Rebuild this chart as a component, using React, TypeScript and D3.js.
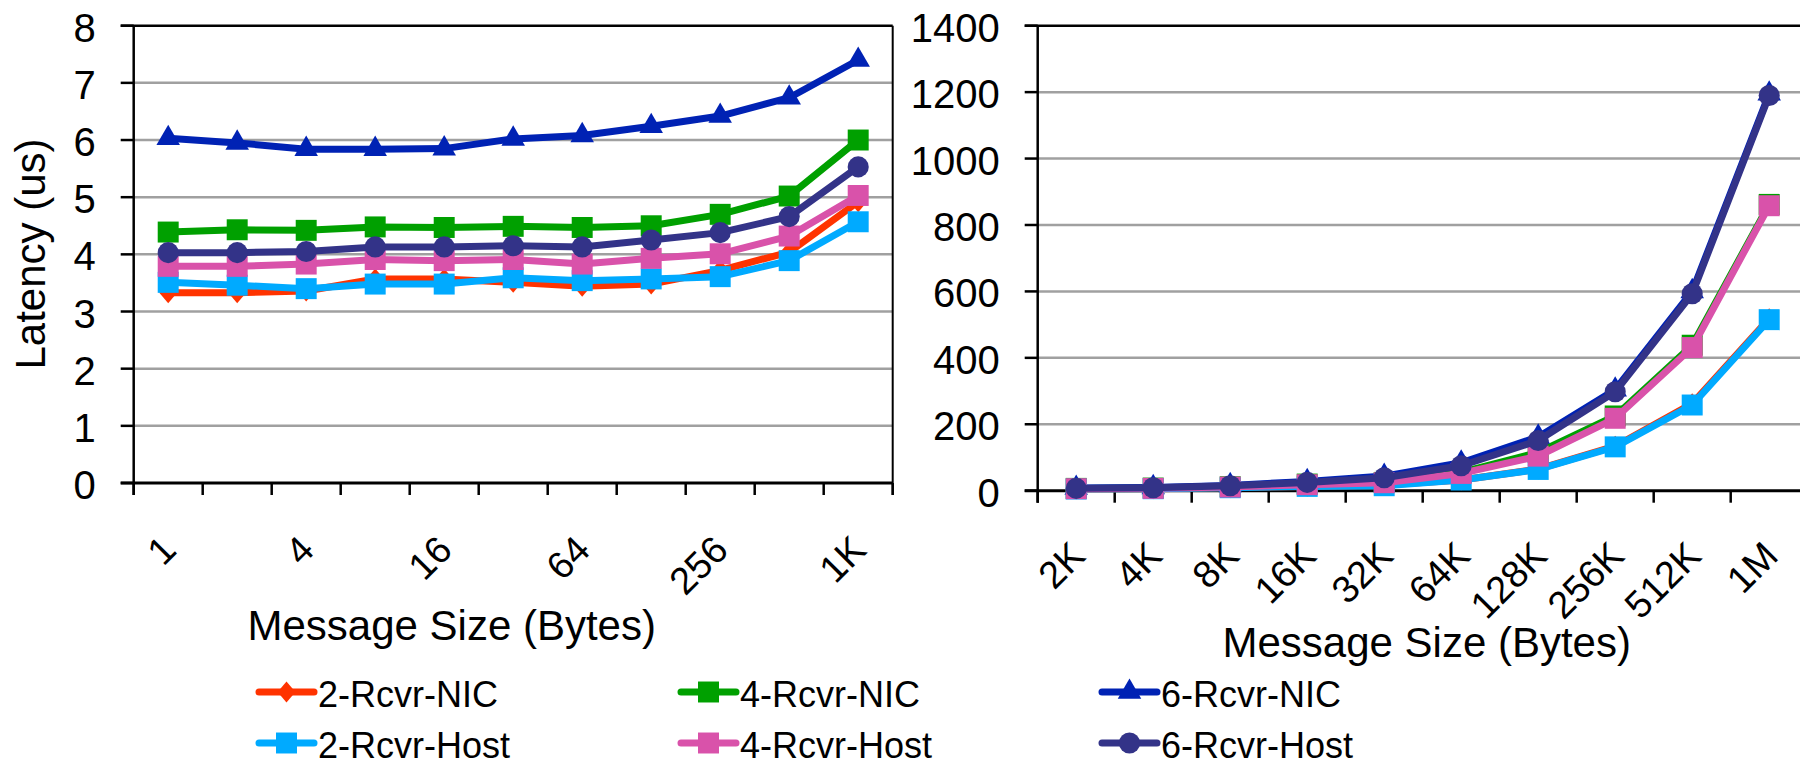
import React from "react";
import * as d3 from "d3";

// small messages (left panel)
const smallSizes = ["1", "2", "4", "8", "16", "32", "64", "128", "256", "512", "1K"];
const smallShown = ["1", "4", "16", "64", "256", "1K"];
const smallTicks = [0, 1, 2, 3, 4, 5, 6, 7, 8];

const nic2Small = [3.33, 3.33, 3.36, 3.57, 3.57, 3.51, 3.44, 3.48, 3.72, 4.04, 4.92];
const nic4Small = [4.39, 4.43, 4.42, 4.48, 4.47, 4.49, 4.47, 4.5, 4.7, 5.02, 6.0];
const nic6Small = [6.03, 5.95, 5.84, 5.84, 5.85, 6.02, 6.08, 6.24, 6.42, 6.74, 7.4];
const host2Small = [3.51, 3.46, 3.4, 3.48, 3.48, 3.59, 3.54, 3.57, 3.61, 3.89, 4.57];
const host4Small = [3.79, 3.79, 3.83, 3.91, 3.89, 3.91, 3.83, 3.93, 4.01, 4.32, 5.03];
const host6Small = [4.03, 4.03, 4.05, 4.13, 4.13, 4.15, 4.13, 4.25, 4.38, 4.66, 5.53];

// large messages (right panel)
const largeSizes = ["2K", "4K", "8K", "16K", "32K", "64K", "128K", "256K", "512K", "1M"];
const largeTicks = [0, 200, 400, 600, 800, 1000, 1200, 1400];

const nic2Large = [5, 6, 9, 13, 17, 32, 65, 134, 262, 518];
const nic4Large = [7, 8, 12, 20, 25, 55, 115, 225, 438, 862];
const nic6Large = [8, 10, 16, 28, 44, 84, 162, 304, 600, 1195];
const host2Large = [5, 6, 9, 13, 15, 32, 64, 132, 258, 515];
const host4Large = [6, 7, 11, 18, 24, 52, 104, 218, 431, 858];
const host6Large = [7, 9, 15, 25, 39, 75, 151, 298, 593, 1190];

const names = ["2-Rcvr-NIC", "4-Rcvr-NIC", "6-Rcvr-NIC", "2-Rcvr-Host", "4-Rcvr-Host", "6-Rcvr-Host"];
const colors = ["#ff3300", "#00a000", "#0022b4", "#00aaff", "#d952aa", "#333388"];

// diamond a bit wider than d3's own
const wideDiamond = {
  draw(ctx: any, size: number) {
    const h = Math.sqrt(size) * 0.5;
    const w = h * 0.85;
    ctx.moveTo(0, -h);
    ctx.lineTo(w, 0);
    ctx.lineTo(0, h);
    ctx.lineTo(-w, 0);
    ctx.closePath();
  },
};
const shapes: any[] = [wideDiamond, d3.symbolSquare, d3.symbolTriangle, d3.symbolSquare, d3.symbolSquare, d3.symbolCircle];
const shapeSize = [440, 440, 240, 440, 440, 350];

const font = "'Liberation Sans', Arial, sans-serif";

function Panel({ cats, series, yMax, yTicks, x0, x1, yTop, yBot, labelFilter, labelTop, labelX, rightBorder }: any) {
  const x = d3.scaleBand().domain(cats).range([x0, x1]);
  const y = d3.scaleLinear().domain([0, yMax]).range([yBot, yTop]);
  const bw = x.bandwidth();
  const cx = (c: string) => (x(c) as number) + bw / 2;
  const bounds = cats.map((c: string) => x(c) as number).concat([x1]);

  return (
    <g>
      {yTicks.map((t: number) => (
        <g key={"g" + t}>
          {t > 0 && t < yMax && (
            <line x1={x0} x2={x1} y1={y(t)} y2={y(t)} stroke="#a0a0a0" strokeWidth={2.5} />
          )}
          <line x1={x0 - 13} x2={x0} y1={y(t)} y2={y(t)} stroke="#000" strokeWidth={2.5} />
          <text x={x0 - 38} y={y(t) + 16} textAnchor="end" fontSize={40} fontFamily={font}>
            {t}
          </text>
        </g>
      ))}
      <line x1={x0 - 13} x2={x1} y1={yTop} y2={yTop} stroke="#000" strokeWidth={2.5} />
      {rightBorder && <line x1={x1} x2={x1} y1={yTop} y2={yBot + 12} stroke="#000" strokeWidth={2} />}
      {bounds.map((b: number, i: number) => (
        <line key={"t" + i} x1={b} x2={b} y1={yBot} y2={yBot + 12} stroke="#000" strokeWidth={2.5} />
      ))}
      <line x1={x0} x2={x0} y1={yTop} y2={yBot + 12} stroke="#000" strokeWidth={2.5} />
      <line x1={x0 - 13} x2={x1} y1={yBot} y2={yBot} stroke="#000" strokeWidth={3} />
      {cats.filter(labelFilter).map((c: string) => (
        <text
          key={"l" + c}
          transform={`translate(${cx(c) + labelX},${labelTop}) rotate(-45)`}
          textAnchor="end"
          fontSize={38}
          fontFamily={font}
        >
          {c}
        </text>
      ))}
      {series.map((vals: number[], si: number) => {
        const pts = vals.map((v, i) => [cx(cats[i]), y(v)] as [number, number]);
        const sym = d3.symbol().type(shapes[si]).size(shapeSize[si]);
        return (
          <g key={"s" + si}>
            <path d={d3.line()(pts) as string} fill="none" stroke={colors[si]} strokeWidth={7} strokeLinejoin="round" />
            {pts.map((p, i) => (
              <path key={i} d={sym() as string} transform={`translate(${p[0]},${p[1]})`} fill={colors[si]} />
            ))}
          </g>
        );
      })}
    </g>
  );
}

export default function App() {
  const legendCols = [259, 681, 1102];
  const legendRows = [692, 743];
  return (
    <svg
      width={1800}
      height={765}
      style={{ position: "absolute", left: 0, top: 0, background: "#fff" }}
    >
      <rect width={1800} height={765} fill="#fff" />
      <Panel
        cats={smallSizes}
        series={[nic2Small, nic4Small, nic6Small, host2Small, host4Small, host6Small]}
        yMax={8}
        yTicks={smallTicks}
        x0={133.7}
        x1={892.7}
        yTop={25.7}
        yBot={483}
        labelFilter={(c: string) => smallShown.includes(c)}
        labelTop={552}
        labelX={10}
        rightBorder={true}
      />
      <Panel
        cats={largeSizes}
        series={[nic2Large, nic4Large, nic6Large, host2Large, host4Large, host6Large]}
        yMax={1400}
        yTicks={largeTicks}
        x0={1037.7}
        x1={1807.7}
        yTop={25.7}
        yBot={490.7}
        labelFilter={() => true}
        labelTop={558}
        labelX={11}
        rightBorder={false}
      />
      <text transform="translate(45,254) rotate(-90)" textAnchor="middle" fontSize={42} fontFamily={font}>
        Latency (us)
      </text>
      <text x={451.7} y={640} textAnchor="middle" fontSize={42} fontFamily={font}>
        Message Size (Bytes)
      </text>
      <text x={1426.7} y={657} textAnchor="middle" fontSize={42} fontFamily={font}>
        Message Size (Bytes)
      </text>
      {names.map((n, i) => {
        const lx = legendCols[i % 3];
        const ly = legendRows[Math.floor(i / 3)];
        const sym = d3.symbol().type(shapes[i]).size(shapeSize[i]);
        return (
          <g key={n}>
            <line x1={lx} x2={lx + 55} y1={ly} y2={ly} stroke={colors[i]} strokeWidth={7} strokeLinecap="round" />
            <path d={sym() as string} transform={`translate(${lx + 27.5},${ly})`} fill={colors[i]} />
            <text x={lx + 59} y={ly + 15} fontSize={36} fontFamily={font}>
              {n}
            </text>
          </g>
        );
      })}
    </svg>
  );
}
